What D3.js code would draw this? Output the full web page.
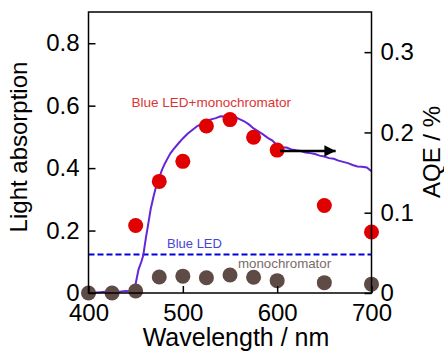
<!DOCTYPE html>
<html lang="en">
<head>
    <meta charset="UTF-8">
    <title>Light absorption and AQE</title>
    <script src="https://d3js.org/d3.v7.min.js"></script>
    <style>
        body {
            margin: 0;
            background: #fff;
            font-family: "Liberation Sans", Arial, sans-serif;
        }
    </style>
</head>
<body>
    <svg width="444" height="354"></svg>

    <script>
        // absorption spectrum (left axis)
        const specWl = [400, 410, 420, 430, 440, 445, 448, 450, 453, 456, 458, 461, 463, 466, 469, 472, 475, 478, 481, 484, 487, 490, 495, 500, 505, 510, 515, 520, 525, 530, 535, 540, 545, 550, 555, 560, 565, 570, 575, 580, 585, 590, 595, 600, 605, 610, 615, 620, 625, 630, 635, 640, 645, 650, 655, 660, 665, 670, 675, 680, 685, 690, 695, 700];
        const specAbs = [0.004, 0.002, 0.005, 0.003, 0.006, 0.004, 0.012, 0.03, 0.075, 0.10, 0.12, 0.18, 0.215, 0.27, 0.31, 0.345, 0.37, 0.395, 0.415, 0.432, 0.448, 0.46, 0.478, 0.495, 0.51, 0.522, 0.534, 0.542, 0.55, 0.556, 0.56, 0.566, 0.565, 0.568, 0.564, 0.557, 0.55, 0.54, 0.527, 0.518, 0.508, 0.497, 0.488, 0.472, 0.466, 0.466, 0.46, 0.457, 0.455, 0.45, 0.448, 0.445, 0.44, 0.437, 0.432, 0.43, 0.424, 0.42, 0.416, 0.41, 0.405, 0.404, 0.402, 0.39];

        // AQE, Blue LED + monochromator (right axis)
        const ledMonoWl = [450, 475, 500, 525, 550, 575, 600, 650, 700];
        const ledMonoAqe = [0.084, 0.139, 0.164, 0.208, 0.216, 0.194, 0.178, 0.109, 0.076];

        // AQE, monochromator only (right axis)
        const monoWl = [400, 425, 450, 475, 500, 525, 550, 575, 600, 650, 700];
        const monoAqe = [0, 0, 0.0025, 0.02, 0.021, 0.019, 0.0225, 0.0196, 0.0154, 0.0129, 0.011];

        // Blue LED level (left axis)
        const blueLed = 0.123;

        const xTicks = [400, 500, 600, 700];
        const yLeftTicks = [0, 0.2, 0.4, 0.6, 0.8];
        const yRightTicks = [0, 0.1, 0.2, 0.3];

        const svg = d3.select("svg");
        const plotL = 88.5, plotR = 371.5, plotT = 12, plotB = 293;

        const x = d3.scaleLinear().domain([400, 700]).range([plotL, plotR]);
        const yL = d3.scaleLinear().domain([0, 0.9]).range([plotB, plotT]);
        const yR = d3.scaleLinear().domain([0, 0.35]).range([plotB, plotT]);

        const fmt = d => d === 0 ? "0" : d3.format(".1f")(d);
        const tickFont = 24;

        // blue LED dashed line
        svg.append("line")
            .attr("x1", plotL).attr("x2", plotR)
            .attr("y1", yL(blueLed)).attr("y2", yL(blueLed))
            .attr("stroke", "#0000dd")
            .attr("stroke-width", 2)
            .attr("stroke-dasharray", "6,3");

        // spectrum
        const line = d3.line()
            .x((d, i) => x(specWl[i]))
            .y(d => yL(d));
        svg.append("path")
            .datum(specAbs)
            .attr("fill", "none")
            .attr("stroke", "#6426d6")
            .attr("stroke-width", 2)
            .attr("d", line);

        // monochromator dots
        svg.append("g").selectAll("circle")
            .data(monoWl)
            .join("circle")
            .attr("cx", d => x(d))
            .attr("cy", (d, i) => yR(monoAqe[i]))
            .attr("r", 7.5)
            .attr("fill", "#5f4b45");

        // blue LED + monochromator dots
        svg.append("g").selectAll("circle")
            .data(ledMonoWl)
            .join("circle")
            .attr("cx", d => x(d))
            .attr("cy", (d, i) => yR(ledMonoAqe[i]))
            .attr("r", 7.5)
            .attr("fill", "#e00000");

        // arrow pointing to right axis
        svg.append("defs").append("marker")
            .attr("id", "head")
            .attr("viewBox", "0 0 10 10")
            .attr("refX", 10).attr("refY", 5)
            .attr("markerWidth", 6).attr("markerHeight", 4.5)
            .attr("markerUnits", "strokeWidth")
            .attr("orient", "auto")
            .append("path")
            .attr("d", "M0,0L10,5L0,10Z")
            .attr("fill", "#000");
        svg.append("line")
            .attr("x1", x(600) + 3).attr("x2", x(662))
            .attr("y1", yR(0.177)).attr("y2", yR(0.177))
            .attr("stroke", "#000")
            .attr("stroke-width", 2.5)
            .attr("marker-end", "url(#head)");

        // frame
        svg.append("rect")
            .attr("x", plotL).attr("y", plotT)
            .attr("width", plotR - plotL).attr("height", plotB - plotT)
            .attr("fill", "none")
            .attr("stroke", "#000")
            .attr("stroke-width", 1.5);

        // axes (ticks inward)
        const axB = svg.append("g")
            .attr("transform", `translate(0,${plotB})`)
            .call(d3.axisBottom(x).tickValues(xTicks).tickSizeInner(-7).tickSizeOuter(0).tickPadding(11));
        const axL = svg.append("g")
            .attr("transform", `translate(${plotL},0)`)
            .call(d3.axisLeft(yL).tickValues(yLeftTicks).tickFormat(fmt).tickSizeInner(-7).tickSizeOuter(0).tickPadding(9));
        const axR = svg.append("g")
            .attr("transform", `translate(${plotR},0)`)
            .call(d3.axisRight(yR).tickValues(yRightTicks).tickFormat(fmt).tickSizeInner(-7).tickSizeOuter(0).tickPadding(9));

        [axB, axL, axR].forEach(a => {
            a.select(".domain").remove();
            a.selectAll("line").attr("stroke", "#000").attr("stroke-width", 1.5);
            a.selectAll("text")
                .attr("font-family", "'Liberation Sans', Arial, sans-serif")
                .attr("font-size", tickFont)
                .attr("fill", "#000");
        });
        axB.selectAll("text").attr("dy", "0.71em");

        // axis titles
        svg.append("text")
            .attr("x", 236).attr("y", 346)
            .attr("text-anchor", "middle")
            .attr("font-size", 25)
            .text("Wavelength / nm");
        svg.append("text")
            .attr("transform", "translate(27,147) rotate(-90)")
            .attr("text-anchor", "middle")
            .attr("font-size", 24)
            .text("Light absorption");
        svg.append("text")
            .attr("transform", "translate(440,152) rotate(-90)")
            .attr("text-anchor", "middle")
            .attr("font-size", 24)
            .text("AQE / %");

        // series labels
        svg.append("text")
            .attr("x", 131.5).attr("y", 106.5)
            .attr("font-size", 13.5)
            .attr("fill", "#dc3434")
            .text("Blue LED+monochromator");
        svg.append("text")
            .attr("x", 167).attr("y", 248)
            .attr("font-size", 13)
            .attr("fill", "#4646d2")
            .text("Blue LED");
        svg.append("text")
            .attr("x", 238).attr("y", 268)
            .attr("font-size", 13.3)
            .attr("fill", "#7a6b67")
            .text("monochromator");
    </script>
</body>
</html>
